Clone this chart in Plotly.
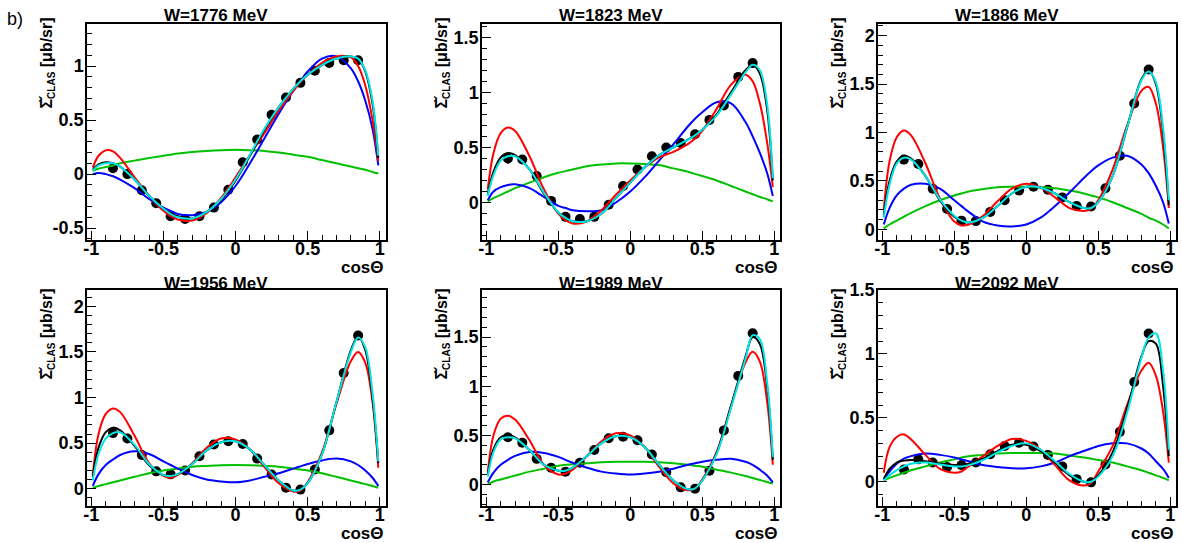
import numpy as np
import plotly.graph_objects as go

# ---------------- data ----------------
TITLES = ["W=1776 MeV", "W=1823 MeV", "W=1886 MeV", "W=1956 MeV", "W=1989 MeV", "W=2092 MeV"]

COS = [-0.85, -0.75, -0.65, -0.55, -0.45, -0.35, -0.25, -0.15, -0.05,
       0.05, 0.15, 0.25, 0.35, 0.45, 0.55, 0.65, 0.75, 0.85]

DATA_1776 = [0.055, 0.0, -0.15, -0.27, -0.39, -0.415, -0.39, -0.31, -0.145, 0.11, 0.32, 0.55, 0.71, 0.845, 0.957, 1.03, 1.055, 1.055]
DATA_1823 = [0.40, 0.39, 0.24, 0.015, -0.13, -0.15, -0.13, -0.02, 0.15, 0.30, 0.42, 0.50, 0.54, 0.62, 0.75, 0.88, 1.14, 1.265]
DATA_1886 = [0.72, 0.675, 0.42, 0.21, 0.09, 0.085, 0.18, 0.30, 0.40, 0.44, 0.41, 0.33, 0.24, 0.235, 0.425, 0.76, 1.30, 1.65]
DATA_1956 = [0.61, 0.55, 0.37, 0.19, 0.157, 0.20, 0.355, 0.485, 0.52, 0.49, 0.33, 0.155, 0.01, -0.01, 0.21, 0.64, 1.27, 1.68]
DATA_1989 = [0.48, 0.425, 0.26, 0.17, 0.13, 0.22, 0.35, 0.47, 0.485, 0.45, 0.305, 0.125, -0.03, -0.045, 0.14, 0.55, 1.105, 1.54]
DATA_2092 = [0.095, 0.175, 0.15, 0.115, 0.13, 0.15, 0.215, 0.28, 0.305, 0.275, 0.21, 0.12, 0.02, -0.005, 0.135, 0.39, 0.78, 1.16]

ERR_1776 = [0.03, 0.02, 0.02, 0.02, 0.02, 0.02, 0.02, 0.02, 0.02, 0.02, 0.02, 0.02, 0.02, 0.02, 0.02, 0.02, 0.02, 0.02]
ERR_1823 = [0.05, 0.03, 0.02, 0.02, 0.02, 0.02, 0.02, 0.02, 0.02, 0.02, 0.02, 0.02, 0.02, 0.02, 0.02, 0.02, 0.02, 0.02]
ERR_1886 = [0.04, 0.03, 0.02, 0.02, 0.02, 0.02, 0.02, 0.02, 0.02, 0.02, 0.02, 0.02, 0.02, 0.02, 0.02, 0.02, 0.03, 0.03]
ERR_1956 = [0.04, 0.03, 0.02, 0.02, 0.02, 0.02, 0.02, 0.02, 0.02, 0.02, 0.02, 0.02, 0.02, 0.02, 0.02, 0.02, 0.03, 0.03]
ERR_1989 = [0.04, 0.03, 0.02, 0.02, 0.02, 0.02, 0.02, 0.02, 0.02, 0.02, 0.02, 0.02, 0.02, 0.02, 0.02, 0.02, 0.03, 0.03]
ERR_2092 = [0.03, 0.02, 0.02, 0.02, 0.02, 0.02, 0.02, 0.02, 0.02, 0.02, 0.02, 0.02, 0.02, 0.02, 0.02, 0.02, 0.03, 0.03]

# curve sample abscissae (cos theta)
XC = [-0.99, -0.95, -0.9, -0.85, -0.8, -0.7, -0.6, -0.5, -0.45, -0.4, -0.3, -0.2, -0.1, 0.0,
      0.1, 0.2, 0.3, 0.4, 0.45, 0.5, 0.6, 0.7, 0.8, 0.85, 0.9, 0.95, 0.99]

# W=1776
BLACK_1776 = [0.04, 0.09, 0.11, 0.10, 0.07, -0.05, -0.20, -0.32, -0.36, -0.39, -0.41, -0.35, -0.24, -0.06, 0.17, 0.41, 0.62, 0.79, 0.86, 0.92, 1.01, 1.07, 1.09, 1.07, 0.95, 0.65, 0.15]
CYAN_1776 = [0.03, 0.08, 0.10, 0.10, 0.07, -0.05, -0.20, -0.32, -0.37, -0.40, -0.41, -0.35, -0.23, -0.05, 0.18, 0.42, 0.62, 0.79, 0.86, 0.92, 1.01, 1.07, 1.09, 1.07, 0.96, 0.68, 0.17]
RED_1776 = [0.06, 0.17, 0.22, 0.21, 0.15, -0.03, -0.20, -0.34, -0.39, -0.42, -0.43, -0.36, -0.22, -0.03, 0.18, 0.38, 0.59, 0.77, 0.85, 0.92, 1.03, 1.09, 1.08, 1.00, 0.82, 0.50, 0.12]
BLUE_1776 = [0.0, 0.01, 0.0, -0.02, -0.05, -0.13, -0.23, -0.31, -0.34, -0.37, -0.38, -0.35, -0.26, -0.11, 0.10, 0.33, 0.56, 0.77, 0.86, 0.95, 1.07, 1.09, 0.98, 0.86, 0.68, 0.42, 0.08]
GREEN_1776 = [0.03, 0.05, 0.065, 0.08, 0.10, 0.125, 0.15, 0.17, 0.18, 0.19, 0.205, 0.215, 0.222, 0.225, 0.222, 0.215, 0.20, 0.18, 0.17, 0.16, 0.13, 0.10, 0.07, 0.055, 0.04, 0.02, 0.005]

# W=1823
BLACK_1823 = [0.08, 0.28, 0.41, 0.45, 0.43, 0.30, 0.08, -0.09, -0.14, -0.17, -0.17, -0.10, 0.04, 0.18, 0.32, 0.43, 0.50, 0.57, 0.61, 0.66, 0.80, 1.00, 1.20, 1.25, 1.17, 0.85, 0.20]
CYAN_1823 = [0.06, 0.25, 0.38, 0.42, 0.42, 0.30, 0.09, -0.09, -0.14, -0.17, -0.17, -0.10, 0.04, 0.18, 0.32, 0.43, 0.50, 0.57, 0.61, 0.66, 0.79, 0.98, 1.18, 1.25, 1.20, 0.90, 0.22]
RED_1823 = [0.12, 0.45, 0.63, 0.68, 0.65, 0.42, 0.12, -0.10, -0.16, -0.19, -0.17, -0.07, 0.07, 0.20, 0.32, 0.41, 0.46, 0.53, 0.58, 0.65, 0.85, 1.07, 1.16, 1.10, 0.90, 0.55, 0.14]
BLUE_1823 = [0.02, 0.10, 0.14, 0.16, 0.165, 0.13, 0.05, -0.03, -0.05, -0.07, -0.08, -0.07, 0.0, 0.10, 0.23, 0.38, 0.53, 0.69, 0.76, 0.82, 0.91, 0.90, 0.73, 0.60, 0.45, 0.27, 0.06]
GREEN_1823 = [0.01, 0.04, 0.07, 0.10, 0.13, 0.18, 0.23, 0.27, 0.285, 0.30, 0.33, 0.345, 0.355, 0.355, 0.35, 0.34, 0.31, 0.28, 0.26, 0.24, 0.20, 0.15, 0.10, 0.075, 0.05, 0.03, 0.01]

# W=1886
BLACK_1886 = [0.15, 0.50, 0.70, 0.76, 0.73, 0.55, 0.30, 0.13, 0.09, 0.07, 0.12, 0.24, 0.37, 0.44, 0.43, 0.37, 0.28, 0.22, 0.22, 0.28, 0.55, 1.05, 1.55, 1.64, 1.50, 1.00, 0.25]
CYAN_1886 = [0.12, 0.46, 0.68, 0.74, 0.72, 0.55, 0.31, 0.14, 0.09, 0.07, 0.12, 0.24, 0.37, 0.44, 0.43, 0.37, 0.28, 0.22, 0.22, 0.28, 0.55, 1.05, 1.54, 1.63, 1.52, 1.05, 0.30]
RED_1886 = [0.20, 0.70, 0.95, 1.02, 0.97, 0.68, 0.32, 0.08, 0.04, 0.05, 0.14, 0.29, 0.42, 0.47, 0.43, 0.33, 0.22, 0.19, 0.21, 0.30, 0.62, 1.07, 1.43, 1.47, 1.30, 0.85, 0.22]
BLUE_1886 = [0.05, 0.22, 0.35, 0.42, 0.46, 0.47, 0.42, 0.30, 0.24, 0.18, 0.08, 0.04, 0.03, 0.05, 0.12, 0.24, 0.38, 0.53, 0.60, 0.66, 0.74, 0.76, 0.67, 0.58, 0.45, 0.28, 0.06]
GREEN_1886 = [0.01, 0.05, 0.09, 0.13, 0.17, 0.24, 0.30, 0.35, 0.37, 0.39, 0.415, 0.435, 0.44, 0.44, 0.435, 0.425, 0.40, 0.37, 0.35, 0.33, 0.28, 0.22, 0.16, 0.12, 0.09, 0.05, 0.01]

# W=1956
BLACK_1956 = [0.13, 0.45, 0.62, 0.67, 0.64, 0.47, 0.26, 0.15, 0.14, 0.16, 0.27, 0.42, 0.51, 0.52, 0.43, 0.26, 0.09, -0.02, -0.01, 0.06, 0.38, 0.95, 1.52, 1.67, 1.52, 1.00, 0.28]
CYAN_1956 = [0.09, 0.38, 0.55, 0.61, 0.62, 0.48, 0.27, 0.15, 0.14, 0.16, 0.27, 0.42, 0.51, 0.52, 0.43, 0.26, 0.09, -0.02, -0.01, 0.06, 0.38, 0.95, 1.50, 1.66, 1.55, 1.05, 0.30]
RED_1956 = [0.15, 0.60, 0.82, 0.88, 0.84, 0.58, 0.28, 0.14, 0.12, 0.15, 0.28, 0.45, 0.55, 0.54, 0.43, 0.24, 0.06, -0.03, -0.02, 0.07, 0.40, 0.93, 1.40, 1.50, 1.38, 0.95, 0.23]
BLUE_1956 = [0.03, 0.16, 0.26, 0.32, 0.37, 0.41, 0.38, 0.30, 0.26, 0.22, 0.15, 0.10, 0.08, 0.07, 0.09, 0.13, 0.17, 0.22, 0.245, 0.27, 0.31, 0.33, 0.30, 0.26, 0.20, 0.12, 0.03]
GREEN_1956 = [0.01, 0.03, 0.05, 0.07, 0.09, 0.13, 0.17, 0.20, 0.21, 0.22, 0.24, 0.25, 0.258, 0.26, 0.258, 0.25, 0.24, 0.22, 0.21, 0.20, 0.17, 0.13, 0.09, 0.07, 0.05, 0.03, 0.01]

# W=1989
BLACK_1989 = [0.10, 0.36, 0.48, 0.50, 0.48, 0.35, 0.20, 0.14, 0.14, 0.17, 0.29, 0.42, 0.49, 0.48, 0.38, 0.20, 0.04, -0.05, -0.04, 0.04, 0.32, 0.80, 1.30, 1.50, 1.43, 1.00, 0.25]
CYAN_1989 = [0.08, 0.33, 0.46, 0.48, 0.47, 0.35, 0.20, 0.14, 0.14, 0.17, 0.29, 0.42, 0.49, 0.48, 0.38, 0.20, 0.04, -0.05, -0.04, 0.04, 0.31, 0.78, 1.28, 1.52, 1.48, 1.05, 0.28]
RED_1989 = [0.12, 0.50, 0.67, 0.70, 0.66, 0.45, 0.20, 0.10, 0.11, 0.15, 0.29, 0.44, 0.52, 0.50, 0.38, 0.18, 0.01, -0.06, -0.04, 0.05, 0.33, 0.80, 1.24, 1.35, 1.25, 0.85, 0.20]
BLUE_1989 = [0.02, 0.12, 0.20, 0.25, 0.29, 0.33, 0.32, 0.28, 0.25, 0.22, 0.17, 0.13, 0.11, 0.10, 0.11, 0.13, 0.16, 0.20, 0.215, 0.23, 0.25, 0.26, 0.23, 0.20, 0.15, 0.09, 0.02]
GREEN_1989 = [0.0, 0.03, 0.05, 0.07, 0.09, 0.13, 0.16, 0.19, 0.20, 0.205, 0.215, 0.225, 0.23, 0.23, 0.23, 0.225, 0.215, 0.20, 0.19, 0.18, 0.15, 0.12, 0.085, 0.065, 0.045, 0.025, 0.01]

# W=2092
BLACK_2092 = [0.02, 0.10, 0.15, 0.165, 0.17, 0.16, 0.14, 0.13, 0.13, 0.14, 0.18, 0.24, 0.29, 0.29, 0.24, 0.15, 0.05, 0.0, 0.0, 0.05, 0.23, 0.57, 0.98, 1.10, 1.08, 0.75, 0.20]
CYAN_2092 = [0.01, 0.05, 0.09, 0.12, 0.14, 0.15, 0.135, 0.12, 0.12, 0.13, 0.17, 0.23, 0.28, 0.30, 0.25, 0.16, 0.06, 0.0, 0.0, 0.04, 0.20, 0.54, 0.97, 1.13, 1.16, 0.87, 0.25]
RED_2092 = [0.07, 0.27, 0.35, 0.37, 0.33, 0.21, 0.10, 0.07, 0.08, 0.12, 0.20, 0.28, 0.335, 0.32, 0.25, 0.13, 0.01, -0.03, -0.01, 0.08, 0.28, 0.60, 0.87, 0.93, 0.83, 0.55, 0.15]
BLUE_2092 = [0.02, 0.08, 0.14, 0.18, 0.20, 0.22, 0.21, 0.19, 0.175, 0.16, 0.13, 0.115, 0.105, 0.105, 0.12, 0.15, 0.20, 0.24, 0.26, 0.28, 0.30, 0.30, 0.26, 0.22, 0.16, 0.10, 0.03]
GREEN_2092 = [0.01, 0.03, 0.05, 0.07, 0.09, 0.12, 0.15, 0.175, 0.19, 0.20, 0.21, 0.22, 0.225, 0.225, 0.225, 0.22, 0.205, 0.19, 0.18, 0.17, 0.15, 0.12, 0.09, 0.07, 0.05, 0.03, 0.01]

Y_RANGES = [(-0.61, 1.39), (-0.34, 1.62), (-0.11, 2.12), (-0.19, 2.18), (-0.22, 1.98), (-0.19, 1.5)]
X_TICKS = [-1, -0.5, 0, 0.5, 1]
X_TICKTEXT = ["-1", "-0.5", "0", "0.5", "1"]
Y_TICKS = [-0.5, 0, 0.5, 1, 1.5, 2]
Y_TICKTEXT = ["-0.5", "0", "0.5", "1", "1.5", "2"]

PANELS = [
    (DATA_1776, ERR_1776, GREEN_1776, BLUE_1776, RED_1776, BLACK_1776, CYAN_1776),
    (DATA_1823, ERR_1823, GREEN_1823, BLUE_1823, RED_1823, BLACK_1823, CYAN_1823),
    (DATA_1886, ERR_1886, GREEN_1886, BLUE_1886, RED_1886, BLACK_1886, CYAN_1886),
    (DATA_1956, ERR_1956, GREEN_1956, BLUE_1956, RED_1956, BLACK_1956, CYAN_1956),
    (DATA_1989, ERR_1989, GREEN_1989, BLUE_1989, RED_1989, BLACK_1989, CYAN_1989),
    (DATA_2092, ERR_2092, GREEN_2092, BLUE_2092, RED_2092, BLACK_2092, CYAN_2092),
]

# ---------------- layout ----------------
W, H = 1182, 543
COLS_PX = [(87, 385.5), (482, 780), (878, 1176)]
ROWS_PX = [(24, 240), (290, 506)]
FONT = "Liberation Sans, Arial, Helvetica, sans-serif"
LINE_COLORS = ["#00c000", "#0000ff", "#ff0000", "#000000", "#00e5e5"]

fig = go.Figure()
layout = dict(template="none", width=W, height=H, autosize=False,
              margin=dict(l=0, r=0, t=0, b=0, pad=0),
              paper_bgcolor="white", plot_bgcolor="white", showlegend=False,
              font=dict(family=FONT, color="black"))
annotations = []

minor_x = [round(v, 2) for v in np.arange(-1.0, 1.0001, 0.1)]
minor_y = [round(v, 2) for v in np.arange(-0.6, 2.3, 0.1)]

YTITLE = "<b>Σ̌<sub><span style='font-size:10px'>CLAS</span></sub> [μb/sr]</b>"

for i, (data, err, g, b, r, k, c) in enumerate(PANELS):
    row, col = divmod(i, 3)
    x0, x1 = COLS_PX[col]
    yt, yb = ROWS_PX[row]
    n = i + 1
    xa = "x" if n == 1 else f"x{n}"
    ya = "y" if n == 1 else f"y{n}"
    xkey = "xaxis" if n == 1 else f"xaxis{n}"
    ykey = "yaxis" if n == 1 else f"yaxis{n}"
    ylo, yhi = Y_RANGES[i]

    common = dict(showgrid=False, zeroline=False, showline=True, linecolor="black",
                  linewidth=1.5, mirror=True, ticks="inside", ticklen=9, tickwidth=1.2,
                  tickcolor="black", tickmode="array", automargin=False,
                  tickfont=dict(family=FONT, size=18, color="black", weight="bold"))
    layout[xkey] = dict(common, domain=[x0 / W, x1 / W], range=[-1.03, 1.04],
                        tickvals=X_TICKS, ticktext=X_TICKTEXT, anchor=ya,
                        ticklabelstandoff=-8,
                        minor=dict(tickmode="array", tickvals=minor_x, ticks="inside",
                                   ticklen=5, tickwidth=1.2, tickcolor="black"))
    layout[ykey] = dict(common, domain=[1 - yb / H, 1 - yt / H], range=[ylo, yhi],
                        tickvals=Y_TICKS, ticktext=Y_TICKTEXT, anchor=xa,
                        ticklabelstandoff=-2,
                        minor=dict(tickmode="array", tickvals=minor_y, ticks="inside",
                                   ticklen=5, tickwidth=1.2, tickcolor="black"))

    fig.add_trace(go.Scatter(x=COS, y=data, mode="markers", xaxis=xa, yaxis=ya,
                             marker=dict(color="black", size=10),
                             error_y=dict(type="data", array=err, color="black",
                                          thickness=1.2, width=0)))
    for ys, colr in zip([g, b, r, k, c], LINE_COLORS):
        fig.add_trace(go.Scatter(x=XC, y=ys, mode="lines", xaxis=xa, yaxis=ya,
                                 line=dict(color=colr, width=2, shape="spline", smoothing=1.0)))

    # panel title
    annotations.append(dict(text=f"<b>{TITLES[i]}</b>", xref="paper", yref="paper",
                            x=((x0 + x1) / 2 - 20) / W, y=1 - (15 if row == 0 else 283) / H,
                            xanchor="center", yanchor="middle", showarrow=False,
                            font=dict(family=FONT, size=17, color="black")))
    # x title
    annotations.append(dict(text="<b>cosΘ</b>", xref="paper", yref="paper",
                            x=x1 / W, y=1 - (267 if row == 0 else 533) / H,
                            xanchor="right", yanchor="middle", showarrow=False,
                            font=dict(family=FONT, size=17, color="black")))
    # y title
    annotations.append(dict(text=YTITLE, xref="paper", yref="paper",
                            x=(x0 - 40) / W, y=1 - (16 if row == 0 else 287) / H,
                            xanchor="center", yanchor="top", textangle=-90, showarrow=False,
                            font=dict(family=FONT, size=16, color="black")))

annotations.append(dict(text="b)", xref="paper", yref="paper", x=5 / W, y=1 - 19 / H,
                        xanchor="left", yanchor="middle", showarrow=False,
                        font=dict(family=FONT, size=18, color="black")))
layout["annotations"] = annotations
fig.update_layout(**layout)
fig.write_html("out.html", config={"displayModeBar": False},
               post_script="document.body.style.margin='0px';document.body.style.overflow='hidden';")
